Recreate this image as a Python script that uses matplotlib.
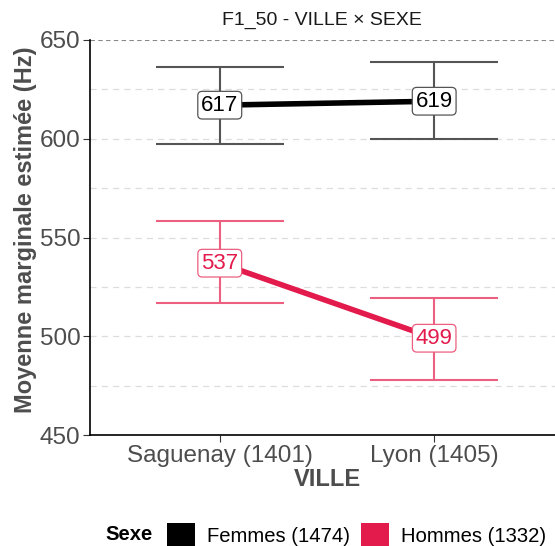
import matplotlib
matplotlib.use("Agg")
import matplotlib.pyplot as plt
from matplotlib.patches import Patch
from matplotlib.offsetbox import HPacker

villes = ["Saguenay (1401)", "Lyon (1405)"]
sexes = ["Femmes (1474)", "Hommes (1332)"]
means = {"Femmes (1474)": [617, 619], "Hommes (1332)": [537, 499]}
lower = {"Femmes (1474)": [597.4, 599.9], "Hommes (1332)": [516.9, 477.9]}
upper = {"Femmes (1474)": [636.3, 638.9], "Hommes (1332)": [558.4, 519.4]}
line_colors = {"Femmes (1474)": "#000000", "Hommes (1332)": "#E31A4C"}
err_colors = {"Femmes (1474)": "#555555", "Hommes (1332)": "#EC5F80"}
yticks = [450, 500, 550, 600, 650]

plt.rcParams['font.family'] = ['Liberation Sans', 'DejaVu Sans']
fig = plt.figure(figsize=(5.55, 5.46), dpi=100)
ax = fig.add_axes([90/555, 1-435/546, 475/555, 395/546])

x = [1, 2]
for s in sexes:
    for i in range(2):
        ax.errorbar(x[i], means[s][i],
                    yerr=[[means[s][i]-lower[s][i]], [upper[s][i]-means[s][i]]],
                    fmt='none', ecolor=err_colors[s], elinewidth=1.5,
                    capsize=46, capthick=1.5, zorder=2)
    ax.plot(x, means[s], color=line_colors[s], lw=4, zorder=3, solid_capstyle='butt')
    for i in range(2):
        ax.text(x[i], means[s][i], f"{means[s][i]}", ha='center', va='center',
                fontsize=16, color=line_colors[s], zorder=5,
                bbox=dict(boxstyle='round,pad=0.15,rounding_size=0.2', fc='white',
                          ec=err_colors[s], lw=0.9))

ax.set_xlim(0.395, 2.61)
ax.set_ylim(450, 650)
ax.set_xticks(x)
ax.set_xticklabels(villes)
ax.set_yticks(yticks)
for v in range(450, 651, 25):
    if v == 650:
        ax.axhline(v, color='#888888', ls=(0, (4, 3)), lw=0.8, zorder=0)
    else:
        ax.axhline(v, color='#DDDDDD', ls=(0, (5, 4)), lw=0.9, zorder=0)
ax.tick_params(axis='both', labelsize=17.5, labelcolor='#4D4D4D', color='#333333',
               length=5, width=0.8, pad=2)
for sp in ['top', 'right']:
    ax.spines[sp].set_visible(False)
for sp in ['left', 'bottom']:
    ax.spines[sp].set_linewidth(1.2)
    ax.spines[sp].set_color('black')
ax.set_ylabel("Moyenne marginale estimée (Hz)", fontsize=17, fontweight='bold',
              color='#4D4D4D')
ax.yaxis.set_label_coords(-0.112, 0.519)
ax.set_xlabel("VILLE", fontsize=17, fontweight='bold', color='#4D4D4D', labelpad=1)
fig.text(322/555, 1-20/546, "F1_50 - VILLE × SEXE", ha='center', va='center',
         fontsize=14, color='#1A1A1A')

handles = [Patch(facecolor=line_colors[s], edgecolor='none') for s in sexes]
leg = fig.legend(handles, sexes, loc='center', bbox_to_anchor=(326/555, 1-535/546),
                 ncol=2, frameon=False, fontsize=14.6, title="Sexe",
                 handlelength=1.38, handleheight=1.38, columnspacing=0.55,
                 handletextpad=0.6, borderpad=0.2)
leg.get_title().set_fontweight('bold')
leg.get_title().set_fontsize(14.6)
box = leg._legend_box
box.__class__ = HPacker
box.sep = 10
box.align = 'center'

fig.savefig("out.png", dpi=100)
